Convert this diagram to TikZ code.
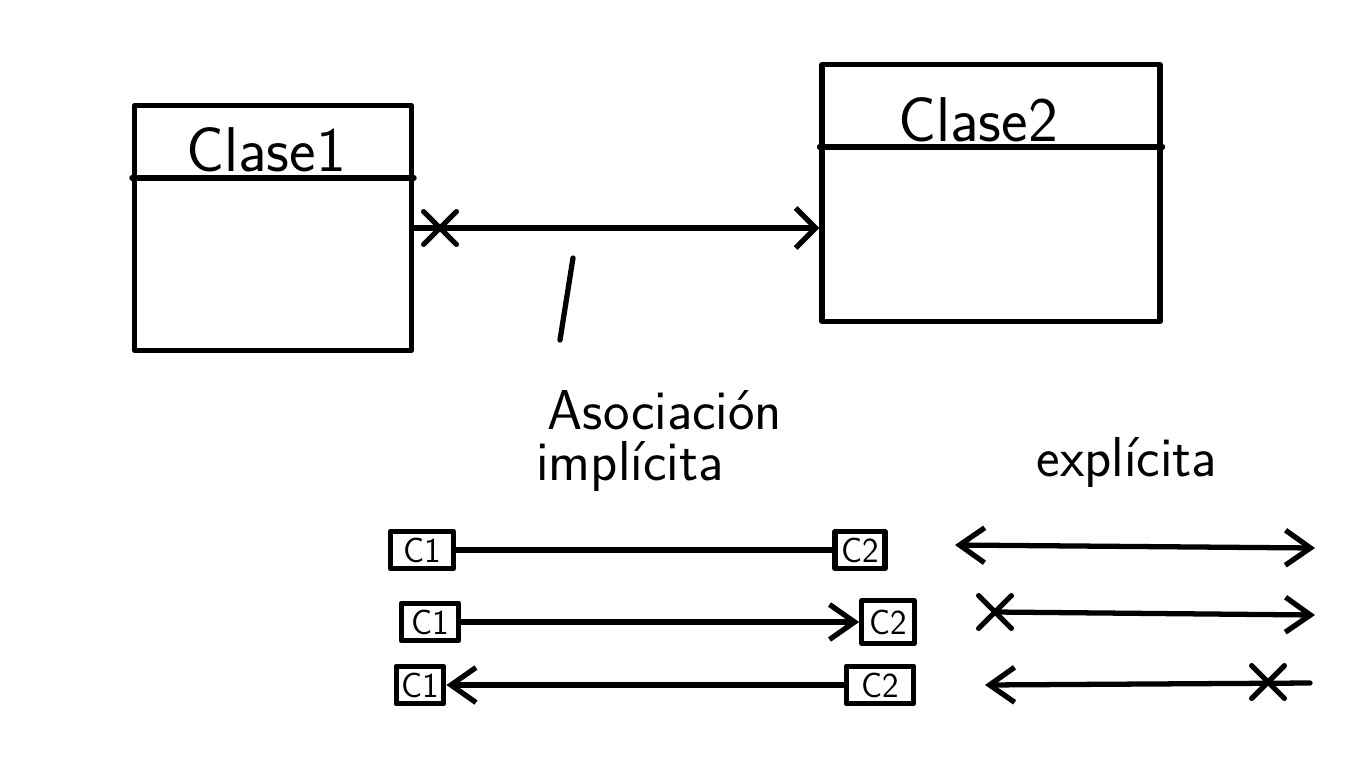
\documentclass[tikz,border=0pt]{standalone}
\usetikzlibrary{arrows.meta,calc,shapes.misc}

\begin{document}
\begin{tikzpicture}[x=0.02cm, y=-0.02cm,
  line width=3pt, line cap=round, line join=round,
  font=\sffamily,
  cls/.style={draw, rectangle, inner sep=0pt},
  title/.style={font=\sffamily\fontsize{36}{40}\selectfont},
  lbl/.style={font=\sffamily\fontsize{32}{36}\selectfont},
  cbox/.style={draw, minimum height=0.75cm, inner sep=2pt, font=\sffamily\fontsize{20}{22}\selectfont},
  xmark/.style={cross out, draw, minimum size=0.55cm, inner sep=0pt},
  tip/.style={-{Straight Barb[length=5mm,width=7mm]}},
  bitip/.style={{Straight Barb[length=5mm,width=7mm]}-{Straight Barb[length=5mm,width=7mm]}}
]
\useasboundingbox (0,0) rectangle (1366,768);

% classes
\node[cls, minimum width=5.54cm, minimum height=4.9cm] (cls1) at (273,228) {};
\node[title] (t1) at (266,150) {Clase1};
\draw ([yshift=-1.5cm]cls1.north west) -- ([yshift=-1.5cm]cls1.north east);

\node[cls, minimum width=6.76cm, minimum height=5.14cm] (cls2) at (991,193) {};
\node[title] (t2) at (978,120) {Clase2};
\draw ([yshift=-1.7cm]cls2.north west) -- ([yshift=-1.7cm]cls2.north east);

% association
\draw[-{Straight Barb[length=4mm,width=8mm]}] (cls1.east) -- (cls1.east -| cls2.west);
\node[xmark] (x1) at (440,228) {};

\coordinate (ptrA) at (573,258);
\coordinate (ptrB) at (560,340);
\draw (ptrB) -- (ptrA);

% labels
\node[lbl] (asoc) at (665,410) {Asociación};
\node[lbl] (impl) at (630,466) {implícita};
\node[lbl] (expl) at (1127,462) {explícita};

% implicit
\node[cbox, minimum width=1.25cm] (c1a) at (422,550) {C1};
\node[cbox, minimum width=1.0cm] (c2a) at (860,550) {C2};
\draw (c1a) -- (c2a);

\node[cbox, minimum width=1.15cm] (c1b) at (430,622) {C1};
\node[cbox, minimum width=1.05cm, minimum height=0.85cm] (c2b) at (888,622) {C2};
\draw[tip] (c1b) -- (c2b);

\node[cbox, minimum width=0.95cm] (c1c) at (420,685) {C1};
\node[cbox, minimum width=1.35cm] (c2c) at (880,685) {C2};
\draw[tip] (c2c) -- (c1c);

% explicit
\coordinate (e1l) at (955,545);
\coordinate (e1r) at (1315,548);
\draw[bitip] (e1l) -- (e1r);

\node[xmark] (x2) at (995,612) {};
\coordinate (e2r) at (1315,615);
\draw[tip] (x2.center) -- (e2r);

\coordinate (e3r) at (1310,683);
\coordinate (e3l) at (985,685);
\draw[tip] (e3r) -- (e3l);
\node[xmark] (x3) at (1268,682) {};
\end{tikzpicture}
\end{document}
